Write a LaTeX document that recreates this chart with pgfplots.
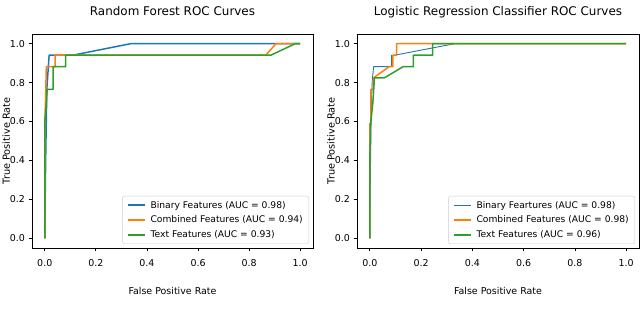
\documentclass[border=0pt]{standalone}
\usepackage{fontspec}
\setmainfont{DejaVu Sans}
\newfontfamily\ylfont{DejaVu Sans}
\usepackage{pgfplots}
\pgfplotsset{compat=1.18}
\definecolor{tblue}{HTML}{1F77B4}
\definecolor{torange}{HTML}{FF7F0E}
\definecolor{tgreen}{HTML}{2CA02C}
\pgfplotsset{
  rocax/.style={
    scale only axis,
    width=281bp, height=214bp,
    xmin=-0.05, xmax=1.05, ymin=-0.05, ymax=1.05,
    xtick={0,0.2,0.4,0.6,0.8,1.0},
    ytick={0,0.2,0.4,0.6,0.8,1.0},
    /pgf/number format/fixed,
    /pgf/number format/fixed zerofill,
    /pgf/number format/precision=1,
    /pgf/number format/assume math mode=true,
    tick label style={font=\fontsize{9.5}{11}\selectfont},
    xticklabel style={yshift=-4bp},
    tick align=outside, tick pos=left,
    major tick length=3.5bp,
    every tick/.style={black, line width=0.8bp},
    axis line style={line width=0.8bp},
    title style={font=\fontsize{12}{14}\selectfont, at={(axis description cs:0.5,1.058)}, anchor=base},
    xlabel style={font=\fontsize{9.5}{11}\selectfont, at={(axis description cs:0.5,-0.215)}, anchor=base},
    ylabel style={font=\ylfont\fontsize{9.8}{11}\selectfont, at={(axis description cs:-0.079,0.5)}, anchor=base},
    xlabel={False Positive Rate},
    ylabel={True Positive Rate},
    legend style={at={(axis description cs:1,0)}, xshift=-4bp, yshift=4bp, anchor=south east,
      draw=black!20, rounded corners=2bp, font=\fontsize{9.2}{11}\selectfont,
      row sep=2.2bp, inner xsep=4bp, inner ysep=3bp,
      /tikz/every odd column/.append style={column sep=3bp}},
    legend cell align=left,
    legend image post style={line width=2bp},
    every axis plot/.append style={no marks, line join=round},
  }
}
\begin{document}
\begin{tikzpicture}
\path[use as bounding box] (0,0) rectangle (640bp,310bp);
\begin{axis}[rocax, at={(32bp,62bp)}, anchor=south west,
  title={Random Forest ROC Curves}]
\addplot[tblue, line width=1.5bp] coordinates {
(0,0) (0,0.05) (0.004,0.45) (0.008,0.765) (0.017,0.941) (0.11,0.941) (0.335,1.0) (1,1)};
\addlegendentry{Binary Features (AUC = 0.98)}
\addplot[torange, line width=1.5bp] coordinates {
(0,0) (0,0.59) (0.003,0.71) (0.006,0.882) (0.041,0.882) (0.041,0.941) (0.865,0.941) (0.905,1.0) (1,1)};
\addlegendentry{Combined Features (AUC = 0.94)}
\addplot[tgreen, line width=1.5bp] coordinates {
(0,0) (0,0.59) (0.007,0.71) (0.009,0.765) (0.033,0.765) (0.033,0.882) (0.082,0.882) (0.082,0.941) (0.885,0.941) (0.98,1.0) (1,1)};
\addlegendentry{Text Features (AUC = 0.93)}
\end{axis}
\begin{axis}[rocax, at={(357bp,62bp)}, anchor=south west, width=282bp,
  title={Logistic Regression Classifier ROC Curves}]
\addplot[tblue, line width=0.9bp, legend image post style={line width=1.2bp}] coordinates {
(0,0) (0,0.1) (0.003,0.4) (0.005,0.6) (0.008,0.765) (0.01,0.82) (0.015,0.882) (0.085,0.882) (0.085,0.941) (0.097,0.941) (0.33,1.0) (1,1)};
\addlegendentry{Binary Feartures (AUC = 0.98)}
\addplot[torange, line width=1.5bp] coordinates {
(0,0) (0,0.59) (0.004,0.59) (0.004,0.765) (0.014,0.765) (0.014,0.824) (0.075,0.882) (0.09,0.882) (0.09,0.941) (0.105,0.941) (0.105,1.0) (1,1)};
\addlegendentry{Combined Features (AUC = 0.98)}
\addplot[tgreen, line width=1.5bp] coordinates {
(0,0) (0,0.41) (0.003,0.59) (0.008,0.65) (0.012,0.70) (0.018,0.824) (0.056,0.824) (0.13,0.882) (0.17,0.882) (0.17,0.941) (0.245,0.941) (0.245,1.0) (1,1)};
\addlegendentry{Text Features (AUC = 0.96)}
\end{axis}
\end{tikzpicture}
\end{document}
